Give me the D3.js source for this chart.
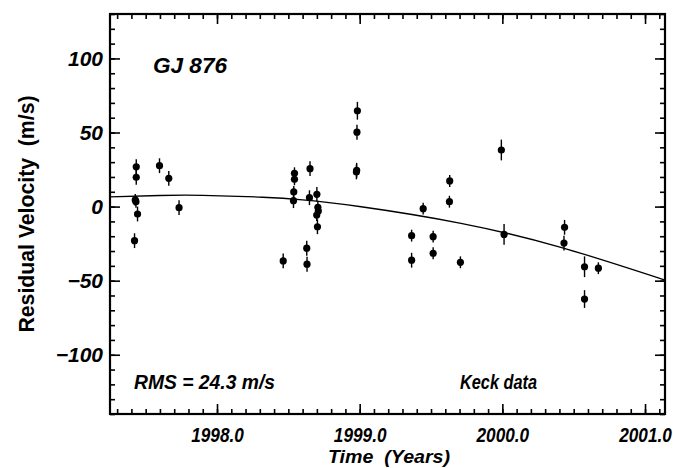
<!DOCTYPE html>
<html><head><meta charset="utf-8">
<script src="https://cdn.jsdelivr.net/npm/d3@7"></script>
<style>body{margin:0;background:#fff} svg{display:block}</style>
</head><body>
<script>
// ---- data ----
const years = [1997.434,1997.434,1997.427,1997.432,1997.443,1997.422,1997.597,1997.662,1997.734,
  1998.464,1998.543,1998.543,1998.538,1998.536,1998.629,1998.631,1998.652,1998.648,1998.700,1998.707,
  1998.710,1998.699,1998.704,1998.984,1998.981,1998.979,1998.977,1999.364,1999.364,1999.445,1999.515,
  1999.515,1999.631,1999.629,1999.706,1999.993,2000.012,2000.436,2000.432,2000.576,2000.576,2000.673];
const velocities = [26.9,19.8,4.5,3.3,-5.0,-23.0,27.6,19.1,-0.7,
  -36.7,22.5,18.4,9.9,4.0,-28.1,-38.9,25.6,6.0,8.3,-0.5,
  -3.0,-5.7,-13.6,64.7,50.2,24.5,23.4,-19.6,-36.2,-1.4,-20.3,
  -31.5,17.3,3.3,-37.6,38.2,-18.8,-14.0,-24.6,-40.6,-62.4,-41.6];
const errors = [5,5,4,4,5,5,5,5,5,
  5,4,4,4,5,5,5,5,5,5,4,
  4,4,5,6,5,5,5,4,5,4,4,
  4,4,4,4,7,7,5,5,7,6,4];
const fitYears  = [1997.25,1997.60,1997.90,1998.32,1998.60,1999.01,1999.71,2000.41,2001.14];
const fitValues = [6.5,7.5,7.6,6.3,4.5,-0.1,-11.3,-27.5,-49.6];
const xTickValues = [1998,1999,2000,2001];
const xTickLabels = ["1998.0","1999.0","2000.0","2001.0"];
const yTickValues = [-100,-50,0,50,100];
const yTickLabels = ["\u2212100","\u221250","0","50","100"];
const starName = "GJ 876";
const rmsText = "RMS = 24.3 m/s";
const sourceText = "Keck data";
const xTitle = "Time  (Years)";
const yTitle = "Residual Velocity  (m/s)";

// ---- layout ----
const W = 673, H = 468;
const L = 110, R = 665, T = 14, B = 414;
const FONT = "'Liberation Sans',Arial,sans-serif";

const svg = d3.select("body").append("svg").attr("width", W).attr("height", H)
  .style("font-family", FONT);

const x = d3.scaleLinear().domain([1997.25, 2001.14]).range([L, R]);
const y = d3.scaleLinear().domain([-140, 130]).range([B, T]);

const xMinor = d3.range(1997.3, 2001.14, 0.1).map(v => +v.toFixed(1));
const yMinor = d3.range(-140, 131, 10);

function styleAxis(g) {
  g.select(".domain").remove();
  g.selectAll(".tick line").attr("stroke", "#000").attr("stroke-width", 1.6);
}
// minor ticks
svg.append("g").attr("transform", `translate(0,${B})`)
  .call(d3.axisBottom(x).tickValues(xMinor).tickSize(-5).tickSizeOuter(0).tickFormat("")).call(styleAxis);
svg.append("g").attr("transform", `translate(0,${T})`)
  .call(d3.axisTop(x).tickValues(xMinor).tickSize(-5).tickSizeOuter(0).tickFormat("")).call(styleAxis);
svg.append("g").attr("transform", `translate(${L},0)`)
  .call(d3.axisLeft(y).tickValues(yMinor).tickSize(-5).tickSizeOuter(0).tickFormat("")).call(styleAxis);
svg.append("g").attr("transform", `translate(${R},0)`)
  .call(d3.axisRight(y).tickValues(yMinor).tickSize(-5).tickSizeOuter(0).tickFormat("")).call(styleAxis);

// major ticks with labels
const gx = svg.append("g").attr("transform", `translate(0,${B})`)
  .call(d3.axisBottom(x).tickValues(xTickValues).tickSize(-10).tickSizeOuter(0).tickPadding(13)
    .tickFormat((d, i) => xTickLabels[i])).call(styleAxis);
gx.selectAll("text").attr("fill", "#000").style("font-size", "21px").style("font-style", "italic").style("font-weight", "bold")
  .attr("transform", "scale(0.82,1)");
svg.append("g").attr("transform", `translate(0,${T})`)
  .call(d3.axisTop(x).tickValues(xTickValues).tickSize(-10).tickSizeOuter(0).tickFormat("")).call(styleAxis);
const gy = svg.append("g").attr("transform", `translate(${L},0)`)
  .call(d3.axisLeft(y).tickValues(yTickValues).tickSize(-10).tickSizeOuter(0).tickPadding(7)
    .tickFormat((d, i) => yTickLabels[i])).call(styleAxis);
gy.selectAll("text").attr("fill", "#000").style("font-size", "21px").style("font-style", "italic").style("font-weight", "bold");
svg.append("g").attr("transform", `translate(${R},0)`)
  .call(d3.axisRight(y).tickValues(yTickValues).tickSize(-10).tickSizeOuter(0).tickFormat("")).call(styleAxis);

// frame
svg.append("rect").attr("x", L).attr("y", T).attr("width", R - L).attr("height", B - T)
  .attr("fill", "none").attr("stroke", "#000").attr("stroke-width", 2.2);

// fit curve
const line = d3.line().x(d => x(d[0])).y(d => y(d[1])).curve(d3.curveNatural);
svg.append("path").datum(fitYears.map((t, i) => [t, fitValues[i]]))
  .attr("d", line).attr("fill", "none").attr("stroke", "#000").attr("stroke-width", 1.3);

// data
const pts = years.map((t, i) => ({t, v: velocities[i], e: errors[i]}));
const gp = svg.append("g");
gp.selectAll("line.err").data(pts).join("line").attr("class", "err")
  .attr("x1", d => x(d.t)).attr("x2", d => x(d.t))
  .attr("y1", d => y(d.v - d.e)).attr("y2", d => y(d.v + d.e))
  .attr("stroke", "#000").attr("stroke-width", 1.4);
gp.selectAll("circle").data(pts).join("circle")
  .attr("cx", d => x(d.t)).attr("cy", d => y(d.v)).attr("r", 3.6).attr("fill", "#000");

// texts
function label(tx, ty, str, size, len, italic) {
  return svg.append("text").attr("x", tx).attr("y", ty).text(str)
    .style("font-size", size + "px").style("font-style", italic ? "italic" : "normal").style("font-weight", "bold")
    .style("white-space", "pre").attr("textLength", len).attr("lengthAdjust", "spacingAndGlyphs");
}
label(153, 73, starName, 22, 74, true);
label(134, 389, rmsText, 20, 141, true);
label(460, 389, sourceText, 20, 77, true);
label(328, 463, xTitle, 18, 122, true);
svg.append("text").attr("transform", `translate(34,${(T + B) / 2}) rotate(-90)`).attr("text-anchor", "middle")
  .text(yTitle).style("font-size", "22px").style("font-weight", "bold").style("white-space", "pre")
  .attr("textLength", 237).attr("lengthAdjust", "spacingAndGlyphs");
</script>
</body></html>
